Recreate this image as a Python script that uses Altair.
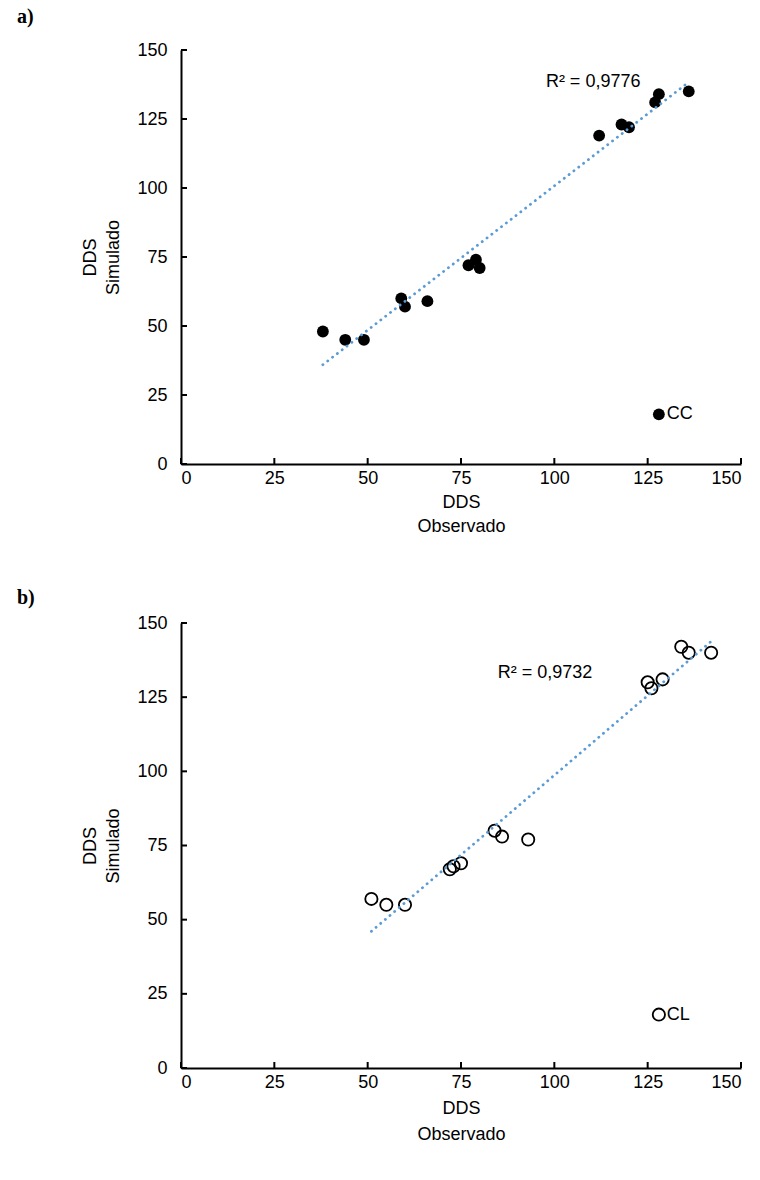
import altair as alt
import pandas as pd

# DDS observado vs simulado, cultivar CC (a) and CL (b)
obs_cc = [38, 44, 49, 59, 60, 66, 77, 79, 80, 112, 118, 120, 127, 128, 136]
sim_cc = [48, 45, 45, 60, 57, 59, 72, 74, 71, 119, 123, 122, 131, 134, 135]

obs_cl = [51, 55, 60, 72, 73, 75, 84, 86, 93, 125, 126, 129, 134, 136, 142]
sim_cl = [57, 55, 55, 67, 68, 69, 80, 78, 77, 130, 128, 131, 142, 140, 140]

tick_values = [0, 25, 50, 75, 100, 125, 150]

r2_cc = "R² = 0,9776"
r2_cl = "R² = 0,9732"

# key marker position (data units) and R² label positions
key_pos = (128, 18)
r2_pos_cc = (110.4, 138.4)
r2_pos_cl = (97.5, 133.1)

FONT = "Liberation Sans"
SERIF = "Liberation Serif"
TREND = "#5B9BD5"
W = 560


def panel(obs, sim, filled, r2_text, r2_pos, key_label, letter, height,
          letter_y, x_title_pad, x_title_lh):
    df = pd.DataFrame({"obs": obs, "sim": sim})
    xs = alt.Scale(domain=[0, 150], nice=False)
    ys = alt.Scale(domain=[0, 150], nice=False)
    x_axis = alt.Axis(
        values=tick_values, ticks=False, grid=False,
        domainColor="black", domainWidth=2,
        labelFont=FONT, labelFontSize=18, labelColor="black", labelPadding=5,
        title=["DDS", "Observado"], titleFont=FONT, titleFontSize=18,
        titleFontWeight="normal", titleColor="black", titlePadding=x_title_pad,
        titleLineHeight=x_title_lh,
    )
    y_axis = alt.Axis(
        values=tick_values, ticks=False, grid=False,
        domainColor="black", domainWidth=2,
        labelFont=FONT, labelFontSize=18, labelColor="black", labelPadding=14,
        title=["DDS", "Simulado"], titleFont=FONT, titleFontSize=18,
        titleFontWeight="normal", titleColor="black", titlePadding=14,
        titleLineHeight=23,
    )
    base = alt.Chart(df)
    x_enc = alt.X("obs:Q", scale=xs, axis=x_axis)
    y_enc = alt.Y("sim:Q", scale=ys, axis=y_axis)

    if filled:
        pts = base.mark_circle(size=140, color="black", opacity=1)
    else:
        pts = base.mark_point(size=150, filled=False, color="black",
                              strokeWidth=1.8, opacity=1)
    points = pts.encode(x=x_enc, y=y_enc)

    # least-squares trend line, dotted
    trend = base.transform_regression("obs", "sim").mark_line(
        color=TREND, strokeWidth=2.8, strokeDash=[0.1, 6], strokeCap="round"
    ).encode(x=alt.X("obs:Q", scale=xs), y=alt.Y("sim:Q", scale=ys))

    # inward tick marks on both axes
    tdf = pd.DataFrame({"t": tick_values})
    xticks = alt.Chart(tdf).mark_rule(color="black", strokeWidth=2).encode(
        x=alt.X("t:Q", scale=xs), y=alt.value(height), y2=alt.value(height - 6)
    )
    yticks = alt.Chart(tdf).mark_rule(color="black", strokeWidth=2).encode(
        y=alt.Y("t:Q", scale=ys), x=alt.value(0), x2=alt.value(6)
    )

    kdf = pd.DataFrame({"obs": [key_pos[0]], "sim": [key_pos[1]], "lab": [key_label]})
    if filled:
        kmark = alt.Chart(kdf).mark_circle(size=140, color="black", opacity=1)
    else:
        kmark = alt.Chart(kdf).mark_point(size=150, filled=False, color="black",
                                          strokeWidth=1.8, opacity=1)
    key_pt = kmark.encode(x=alt.X("obs:Q", scale=xs), y=alt.Y("sim:Q", scale=ys))
    key_txt = alt.Chart(kdf).mark_text(
        align="left", baseline="middle", dx=8, font=FONT, fontSize=18, color="black"
    ).encode(x=alt.X("obs:Q", scale=xs), y=alt.Y("sim:Q", scale=ys), text="lab:N")

    rdf = pd.DataFrame({"obs": [r2_pos[0]], "sim": [r2_pos[1]], "lab": [r2_text]})
    r2 = alt.Chart(rdf).mark_text(
        align="center", baseline="middle", font=FONT, fontSize=18, color="black"
    ).encode(x=alt.X("obs:Q", scale=xs), y=alt.Y("sim:Q", scale=ys), text="lab:N")

    ldf = pd.DataFrame({"lab": [letter]})
    letter_txt = alt.Chart(ldf).mark_text(
        align="left", baseline="middle", font=SERIF, fontSize=20,
        fontWeight="bold", color="black"
    ).encode(x=alt.value(-164), y=alt.value(letter_y), text="lab:N")

    return alt.layer(
        points, trend, xticks, yticks, key_pt, key_txt, r2, letter_txt
    ).properties(width=W, height=height)


top = panel(obs_cc, sim_cc, True, r2_cc, r2_pos_cc, "CC", "a)", 414, -33, 6, 24)
bottom = panel(obs_cl, sim_cl, False, r2_cl, r2_pos_cl, "CL", "b)", 445, -25, 8, 26)

chart = alt.vconcat(top, bottom, spacing=53).properties(
    padding={"left": 17, "top": 7, "right": 5, "bottom": 5},
    background="white",
).configure_view(stroke=None)

chart.save("out.html", embed_options={"renderer": "svg", "actions": False})
